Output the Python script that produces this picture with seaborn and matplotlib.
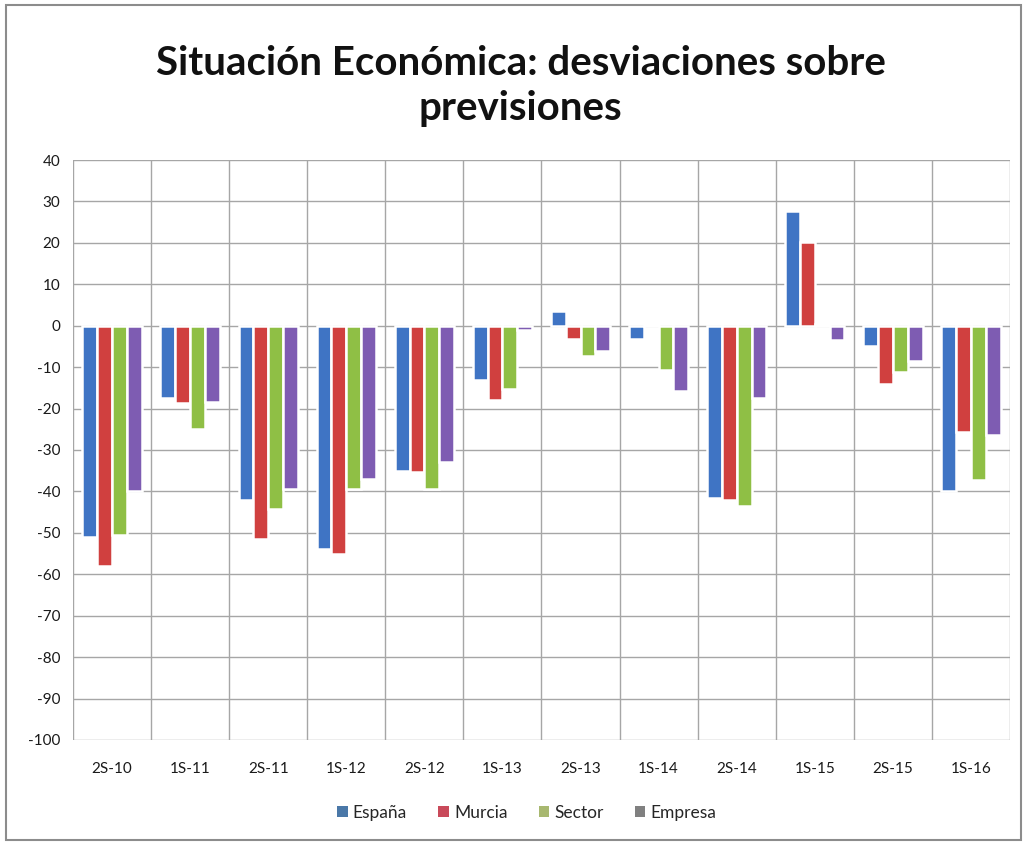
import numpy as np
import pandas as pd
import matplotlib
matplotlib.use("Agg")
import matplotlib.pyplot as plt
from matplotlib.patches import Rectangle, Patch
import seaborn as sns

# Semesters and the deviation of each series over forecasts
periodos = ["2S-10", "1S-11", "2S-11", "1S-12", "2S-12", "1S-13",
            "2S-13", "1S-14", "2S-14", "1S-15", "2S-15", "1S-16"]
espana = [-51, -17.5, -42, -54, -35, -13, 3.5, -3.2, -41.5, 27.8, -4.8, -40]
murcia = [-58, -18.6, -51.5, -55, -35.3, -18, -3.2, 0.3, -42, 20.3, -14, -25.7]
sector = [-50.5, -25, -44.3, -39.4, -39.5, -15.3, -7.2, -10.6, -43.4, 0.5, -11.2, -37.3]
empresa = [-39.8, -18.5, -39.4, -37, -33, -1, -6.2, -15.8, -17.4, -3.4, -8.6, -26.4]

series = ["España", "Murcia", "Sector", "Empresa"]
colores = ["#3f74c4", "#d0403f", "#8fbf45", "#7e5cb2"]
leyenda_colores = ["#4a78a8", "#c94a5a", "#a8b870", "#808080"]

df = pd.DataFrame({
    "periodo": periodos * 4,
    "serie": np.repeat(series, len(periodos)),
    "valor": espana + murcia + sector + empresa,
})

sns.set_theme(style="white")
plt.rcParams["font.family"] = ["Lato", "DejaVu Sans"]
plt.rcParams["axes.unicode_minus"] = False

fig = plt.figure(figsize=(10.27, 8.43), dpi=100)
ax = fig.add_axes([0.0711, 0.1222, 0.9123, 0.688])

sns.barplot(data=df, x="periodo", y="valor", hue="serie", order=periodos,
            hue_order=series, palette=colores, width=0.76, saturation=1,
            edgecolor="white", linewidth=1.8, legend=False, ax=ax, zorder=3)

ax.set_ylim(-100, 40)
ax.set_yticks(np.arange(-100, 41, 10))
ax.set_xlim(-0.5, len(periodos) - 0.5)
ax.set_xlabel("")
ax.set_ylabel("")

# Grid: horizontal at every 10, vertical between categories
for yv in np.arange(-100, 41, 10):
    ax.axhline(yv, color="#a6a6a6", lw=1.0, zorder=1)
for xv in np.arange(-0.5, len(periodos), 1):
    ax.axvline(xv, color="#a6a6a6", lw=1.0, zorder=1)
for s in ax.spines.values():
    s.set_visible(False)

ax.tick_params(axis="both", length=0, labelsize=11, colors="#1a1a1a")
ax.tick_params(axis="x", pad=16)
ax.tick_params(axis="y", pad=9)

fig.text(0.507, 0.8985, "Situación Económica: desviaciones sobre\nprevisiones",
         ha="center", va="center", fontsize=29, fontweight="bold",
         color="#111111", linespacing=1.27)

handles = [Patch(facecolor=c, edgecolor="none") for c in leyenda_colores]
fig.legend(handles, series, loc="center", bbox_to_anchor=(0.513, 0.036),
           ncol=4, frameon=False, fontsize=12.5, handlelength=0.6,
           handleheight=0.6, handletextpad=0.3, columnspacing=1.8)

fig.patches.append(Rectangle((0.006, 0.004), 0.988, 0.99, transform=fig.transFigure,
                             fill=False, edgecolor="#8c8c8c", lw=1.5))

fig.savefig("out.png", dpi=100, facecolor="white")
